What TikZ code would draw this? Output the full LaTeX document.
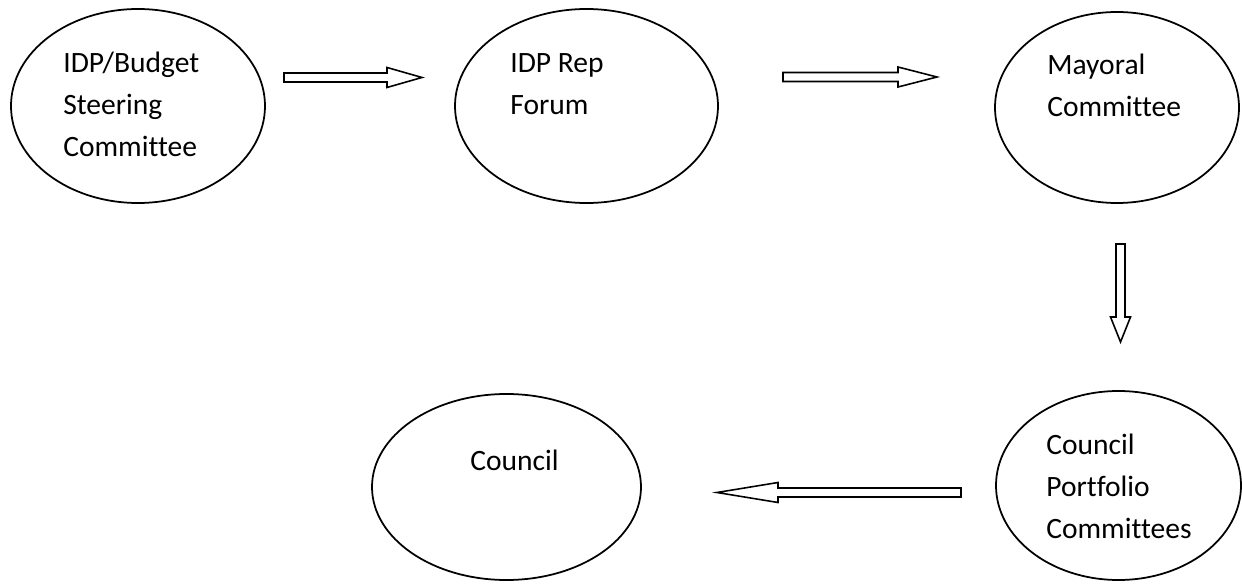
\documentclass[tikz,border=0pt]{standalone}
\usepackage{fontspec}
\setmainfont{Carlito}[Ligatures={NoCommon}]
\usepackage{tkz-euclide}
\usetikzlibrary{calc,shapes.geometric}
\newcommand\stacklines[1]{\begin{tabular}[t]{@{}l@{}}#1\end{tabular}}
\newcommand\blockarrow[3]{%
  \coordinate (H) at ($(#2)!#3!(#1)$);
  \draw[flowarrow] ($(#1)!0.09cm!90:(#2)$) -- ($(H)!0.09cm!90:(#2)$)
    -- ($(H)!0.2cm!90:(#2)$) -- (#2) -- ($(H)!0.2cm!-90:(#2)$)
    -- ($(H)!0.09cm!-90:(#2)$) -- ($(#1)!0.09cm!-90:(#2)$) -- cycle;}
\tikzset{bubble/.style={ellipse,draw,line width=1pt,inner sep=0pt},
  txt/.style={anchor=base west,inner sep=0pt,font=\fontsize{16.8}{23.8}\selectfont},
  flowarrow/.style={line width=0.9pt,line join=miter}}

\begin{document}
\begin{tikzpicture}
\useasboundingbox (0,0) rectangle (24.84,11.74);

\tkzDefPoints{2.76/9.62/S,11.73/9.62/F,22.34/9.59/M,10.13/2.00/C,22.37/2.03/P}
\tkzDefPoints{5.68/10.19/T1,8.44/10.19/P1,15.66/10.2/T2,18.74/10.2/P2}
\tkzDefPoints{22.41/6.86/T3,22.41/4.9/P3,19.22/1.89/T4,14.34/1.89/P4}

\node[bubble,minimum width=5.08cm,minimum height=3.88cm] (steer) at (S) {};
\node[bubble,minimum width=5.26cm,minimum height=3.88cm] (forum) at (F) {};
\node[bubble,minimum width=4.88cm,minimum height=3.82cm] (mayor) at (M) {};
\node[bubble,minimum width=5.38cm,minimum height=3.72cm] (council) at (C) {};
\node[bubble,minimum width=4.9cm,minimum height=3.78cm] (portfolio) at (P) {};

\node[txt] (steertxt) at (1.26,10.28) {\stacklines{IDP/Budget\\Steering\\Committee}};
\node[txt] (forumtxt) at (10.2,10.28) {\stacklines{IDP Rep\\Forum}};
\node[txt] (mayortxt) at (20.94,10.24) {\stacklines{Mayoral\\Committee}};
\node[txt] (counciltxt) at (9.4,2.32) {Council};
\node[txt] (portfoliotxt) at (20.92,2.64) {\stacklines{Council\\Portfolio\\Committees}};

\blockarrow{T1}{P1}{0.70cm}
\blockarrow{T2}{P2}{0.78cm}
\blockarrow{T3}{P3}{0.5cm}
\blockarrow{T4}{P4}{1.22cm}

\end{tikzpicture}
\end{document}
